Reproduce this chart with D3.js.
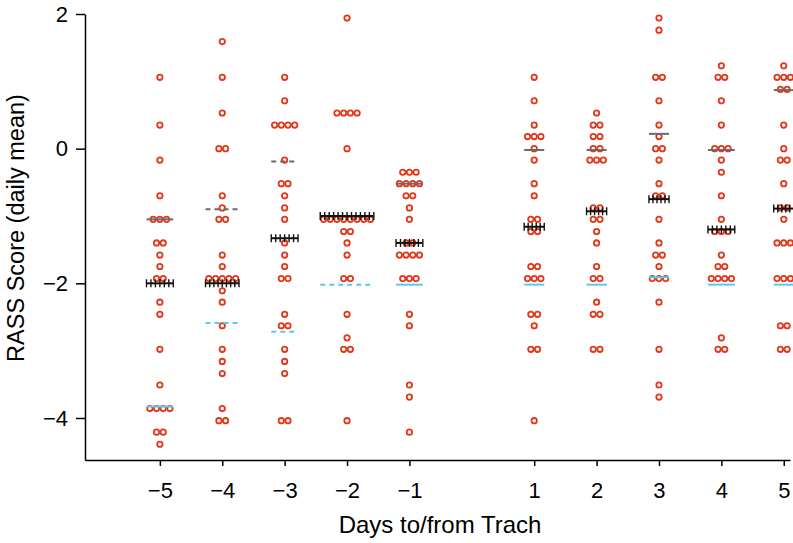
<!DOCTYPE html>
<html><head><meta charset="utf-8">
<script src="https://cdn.jsdelivr.net/npm/d3@7"></script>
<style>body{margin:0;background:#fff} text{font-family:"Liberation Sans",Arial,sans-serif}</style>
</head><body><svg id="c" width="793" height="543"></svg>
<script>
// ---- data ----
const days = [-5, -4, -3, -2, -1, 1, 2, 3, 4, 5];
const dayM5 = [1.06, 0.35, -0.17, -0.70, -1.05, -1.05, -1.05, -1.40, -1.40, -1.58, -1.75, -1.93, -1.93, -2.28, -2.46, -2.98, -3.51, -3.86, -3.86, -3.86, -3.86, -4.21, -4.21, -4.39];
const dayM4 = [1.59, 1.06, 0.53, 0.00, 0.00, -0.70, -0.88, -1.05, -1.05, -1.58, -1.75, -1.93, -1.93, -1.93, -1.93, -1.93, -2.11, -2.28, -2.63, -2.98, -3.16, -3.34, -3.86, -4.04, -4.04];
const dayM3 = [1.06, 0.71, 0.35, 0.35, 0.35, 0.35, -0.17, -0.52, -0.52, -0.70, -0.88, -1.05, -1.40, -1.58, -1.75, -1.93, -1.93, -2.46, -2.63, -2.63, -2.98, -3.16, -3.34, -4.04, -4.04];
const dayM2 = [1.94, 0.53, 0.53, 0.53, 0.53, 0.00, -1.05, -1.05, -1.05, -1.05, -1.05, -1.05, -1.05, -1.05, -1.23, -1.23, -1.40, -1.58, -1.93, -1.93, -2.46, -2.81, -2.98, -2.98, -4.04];
const dayM1 = [-0.35, -0.35, -0.35, -0.52, -0.52, -0.52, -0.52, -0.70, -0.70, -0.88, -1.05, -1.40, -1.40, -1.58, -1.58, -1.58, -1.58, -1.93, -1.93, -1.93, -2.46, -2.63, -3.51, -3.69, -4.21];
const dayP1 = [1.06, 0.71, 0.35, 0.18, 0.18, 0.18, 0.00, -0.17, -0.52, -0.70, -1.05, -1.05, -1.23, -1.23, -1.75, -1.75, -1.93, -1.93, -1.93, -2.46, -2.46, -2.63, -2.98, -2.98, -4.04];
const dayP2 = [0.53, 0.35, 0.35, 0.18, 0.18, 0.00, 0.00, -0.17, -0.17, -0.17, -0.88, -0.88, -1.05, -1.05, -1.23, -1.40, -1.75, -1.93, -1.93, -2.28, -2.46, -2.46, -2.98, -2.98];
const dayP3 = [1.94, 1.76, 1.06, 1.06, 0.71, 0.35, 0.18, 0.00, 0.00, -0.17, -0.52, -0.70, -0.70, -1.05, -1.40, -1.58, -1.58, -1.75, -1.93, -1.93, -1.93, -2.28, -2.98, -3.51, -3.69];
const dayP4 = [1.23, 1.06, 1.06, 0.71, 0.35, 0.00, 0.00, 0.00, -0.17, -0.35, -0.70, -1.05, -1.23, -1.23, -1.23, -1.58, -1.75, -1.75, -1.93, -1.93, -1.93, -1.93, -2.81, -2.98, -2.98];
const dayP5 = [1.23, 1.06, 1.06, 1.06, 0.88, 0.88, 0.35, 0.00, -0.17, -0.17, -0.52, -0.88, -0.88, -1.05, -1.40, -1.40, -1.40, -1.93, -1.93, -1.93, -2.63, -2.63, -2.98, -2.98];
const dayValues = [dayM5, dayM4, dayM3, dayM2, dayM1, dayP1, dayP2, dayP3, dayP4, dayP5];
const upperQuartile = [-1.05, -0.90, -0.19, -1.00, -0.52, -0.02, -0.02, 0.22, -0.02, 0.87];
const medians = [-2.00, -2.00, -1.33, -1.00, -1.40, -1.16, -0.93, -0.75, -1.20, -0.89];
const lowerQuartile = [-3.83, -2.59, -2.72, -2.02, -2.02, -2.02, -2.02, -1.91, -2.02, -2.02];
const yTicks = [2, 0, -2, -4];
const xLabel = "Days to/from Trach";
const yLabel = "RASS Score (daily mean)";

// ---- styles ----
const dashedDays = [-4, -3, -2];
const spacing = 6.7;
const font = '"Liberation Sans",Arial,sans-serif';

const svg = d3.select("#c");
const x = d3.scaleLinear().domain([-6.2, 5.1]).range([85, 790]);
const y = d3.scaleLinear().domain([-4.624, 2]).range([460, 14]);

// axes
const gy = svg.append("g").attr("transform", "translate(85,0)")
  .call(d3.axisLeft(y).tickValues(yTicks).tickFormat(d3.format("d")).tickSize(9).tickSizeOuter(0).tickPadding(8));
const gx = svg.append("g").attr("transform", "translate(0,460)")
  .call(d3.axisBottom(x).tickValues(days).tickFormat(d3.format("d")).tickSize(6).tickSizeOuter(0).tickPadding(16));
[gx, gy].forEach(g => {
  g.select(".domain").attr("stroke", "#000").attr("stroke-width", 1.5);
  g.selectAll(".tick line").attr("stroke", "#000").attr("stroke-width", 1.5);
  g.selectAll(".tick text").attr("fill", "#000").style("font-size", "22px").style("font-family", font);
});

svg.append("text").attr("x", 440).attr("y", 533).attr("text-anchor", "middle")
  .style("font-size", "24px").text(xLabel);
svg.append("text").attr("transform", "translate(24,228) rotate(-90)").attr("text-anchor", "middle")
  .style("font-size", "23.5px").text(yLabel);

// dots and lines
days.forEach((d, i) => {
  const vals = dayValues[i];
  const groups = d3.groups(vals, v => v);
  const maxCount = d3.max(groups, g => g[1].length);
  const cx = x(d);
  const pts = [];
  groups.forEach(([v, arr]) => {
    const n = arr.length;
    arr.forEach((_, k) => pts.push({ x: cx + (k - (n - 1) / 2) * spacing, y: y(v) }));
  });
  const g = svg.append("g");
  g.selectAll("circle").data(pts).join("circle")
    .attr("cx", p => p.x).attr("cy", p => p.y).attr("r", 2.7)
    .attr("fill", "#fff").attr("stroke", "#e2381a").attr("stroke-width", 1.8);

  const half = Math.max(maxCount, 3) * spacing / 2;
  const dash = dashedDays.includes(d) ? "5,4" : null;
  g.append("line").attr("x1", cx - half).attr("x2", cx + half)
    .attr("y1", y(upperQuartile[i])).attr("y2", y(upperQuartile[i]))
    .attr("stroke", "#6b6b6b").attr("stroke-width", 2).attr("stroke-dasharray", dash);
  g.append("line").attr("x1", cx - half).attr("x2", cx + half)
    .attr("y1", y(lowerQuartile[i])).attr("y2", y(lowerQuartile[i]))
    .attr("stroke", "#5cc8f2").attr("stroke-width", 2).attr("stroke-dasharray", dash);
  const my = y(medians[i]);
  g.append("line").attr("x1", cx - half).attr("x2", cx + half)
    .attr("y1", my).attr("y2", my).attr("stroke", "#111").attr("stroke-width", 2);
  const nTicks = Math.round(2 * half / 4.4) + 1;
  d3.range(nTicks).forEach(k => {
    const tx = cx - half + k * (2 * half) / (nTicks - 1);
    g.append("line").attr("x1", tx).attr("x2", tx).attr("y1", my - 4).attr("y2", my + 4)
      .attr("stroke", "#111").attr("stroke-width", 1.4);
  });
});
</script></body></html>
